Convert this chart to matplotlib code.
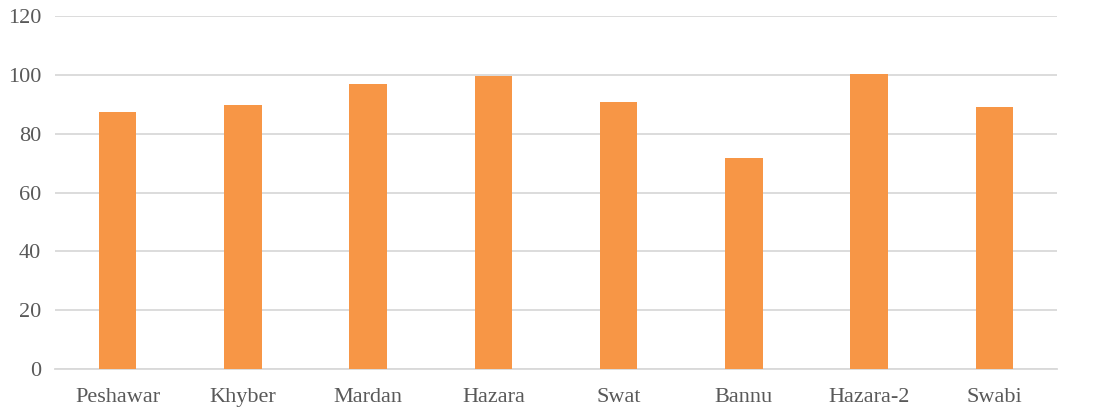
# Bar chart of district scores
import matplotlib.pyplot as plt

# districts and values
districts = ['Peshawar', 'Khyber', 'Mardan', 'Hazara', 'Swat', 'Bannu', 'Hazara-2', 'Swabi']
values = [87.4, 89.8, 97.0, 99.7, 90.8, 71.8, 100.3, 89.1]
y_ticks = [0, 20, 40, 60, 80, 100, 120]

plt.rcParams['font.family'] = ['Liberation Serif', 'DejaVu Serif']

fig = plt.figure(figsize=(11.05, 4.12), dpi=100)
ax = fig.add_axes([55 / 1105, 1 - 369 / 412, 1002 / 1105, 353 / 412])

ax.bar(range(len(districts)), values, width=0.30, color='#F79646', zorder=3)

ax.set_xlim(-0.5, len(districts) - 0.5)
ax.set_ylim(0, 120)
ax.set_yticks(y_ticks)
ax.set_xticks(range(len(districts)))
ax.set_xticklabels(districts)

ax.grid(axis='y', color='#D9D9D9', linewidth=1.3, zorder=0)
for side in ['top', 'right', 'left']:
    ax.spines[side].set_visible(False)
ax.spines['bottom'].set_color('#D9D9D9')
ax.spines['bottom'].set_linewidth(1.3)
ax.tick_params(length=0, labelsize=16, labelcolor='#595959')
ax.tick_params(axis='y', pad=10)
ax.tick_params(axis='x', pad=14)

fig.savefig('out.png', dpi=100)
